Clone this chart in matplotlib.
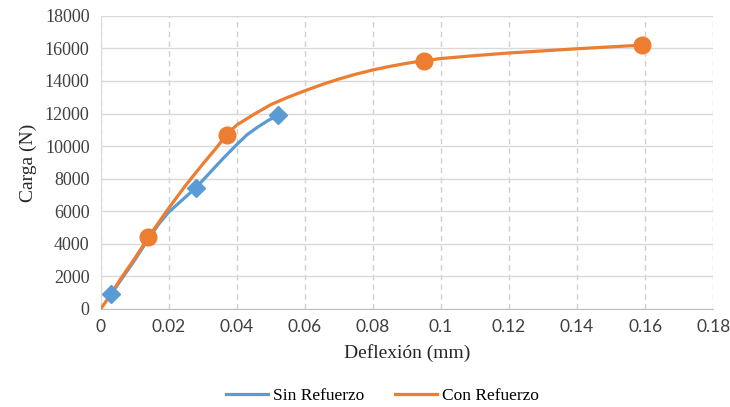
import matplotlib
matplotlib.use("Agg")
import matplotlib.pyplot as plt

# Sin Refuerzo (blue) - line points and marker points
sin_x = [0.003, 0.006, 0.010, 0.014, 0.017, 0.020, 0.024, 0.028, 0.032, 0.036, 0.040, 0.043, 0.046, 0.049, 0.052]
sin_y = [900, 1800, 3000, 4300, 5200, 5950, 6700, 7450, 8350, 9250, 10100, 10700, 11150, 11550, 11900]
sin_mk_x = [0.003, 0.028, 0.052]
sin_mk_y = [900, 7450, 11900]

# Con Refuerzo (orange)
con_x = [0.000, 0.003, 0.006, 0.010, 0.014, 0.017, 0.020, 0.025, 0.030, 0.034, 0.037, 0.040, 0.045,
         0.050, 0.055, 0.060, 0.065, 0.070, 0.075, 0.080, 0.085, 0.090, 0.095, 0.100, 0.110,
         0.120, 0.130, 0.140, 0.150, 0.159]
con_y = [0, 900, 1900, 3100, 4400, 5300, 6200, 7600, 8900, 9900, 10700, 11300, 11950,
         12550, 13000, 13400, 13780, 14120, 14420, 14680, 14900, 15090, 15250, 15380, 15560,
         15720, 15850, 15980, 16100, 16200]
con_mk_x = [0.014, 0.037, 0.095, 0.159]
con_mk_y = [4400, 10700, 15250, 16200]

x_labels = ["0", "0.02", "0.04", "0.06", "0.08", "0.1", "0.12", "0.14", "0.16", "0.18"]

BLUE = "#5B9BD5"
ORANGE = "#ED7D31"

plt.rcParams["font.family"] = ["Liberation Serif", "DejaVu Serif"]

fig = plt.figure(figsize=(7.3, 4.07), dpi=100)
ax = fig.add_axes([0.138, 0.241, 0.839, 0.72])

ax.plot(sin_x, sin_y, color=BLUE, lw=2.3, label="Sin Refuerzo", zorder=3)
ax.plot(sin_mk_x, sin_mk_y, ls="none", marker="D", ms=9.5, color=BLUE, zorder=4)
ax.plot(con_x, con_y, color=ORANGE, lw=2.3, label="Con Refuerzo", zorder=3)
ax.plot(con_mk_x, con_mk_y, ls="none", marker="o", ms=12, color=ORANGE, zorder=4)

ax.set_xlim(0, 0.18)
ax.set_ylim(0, 18000)
ax.set_xticks([i * 0.02 for i in range(10)])
ax.set_xticklabels(x_labels, family=["Lato", "DejaVu Sans"], fontsize=12.5)
ax.set_yticks(range(0, 18001, 2000))
for t in ax.get_yticklabels():
    t.set_fontsize(13)

ax.yaxis.grid(True, color="#D9D9D9", lw=1, ls="-")
ax.xaxis.grid(True, color="#D0D0D0", lw=1, ls=(0, (4, 3)))
ax.set_axisbelow(True)
for s in ["top", "right"]:
    ax.spines[s].set_visible(False)
ax.spines["left"].set_color("#D9D9D9")
ax.spines["bottom"].set_color("#BFBFBF")
ax.tick_params(length=0, colors="#404040")
ax.tick_params(axis="y", pad=8)
ax.tick_params(axis="x", pad=7)

ax.set_xlabel("Deflexión (mm)", fontsize=14, color="#262626", labelpad=7)
ax.set_ylabel("Carga (N)", fontsize=14, color="#262626", labelpad=6)

ax.legend(loc="upper center", bbox_to_anchor=(0.46, -0.215), ncol=2, frameon=False,
          fontsize=12.5, handlelength=2.4, columnspacing=1.8, handletextpad=0.3)

fig.savefig("out.png", dpi=100, facecolor="white")
